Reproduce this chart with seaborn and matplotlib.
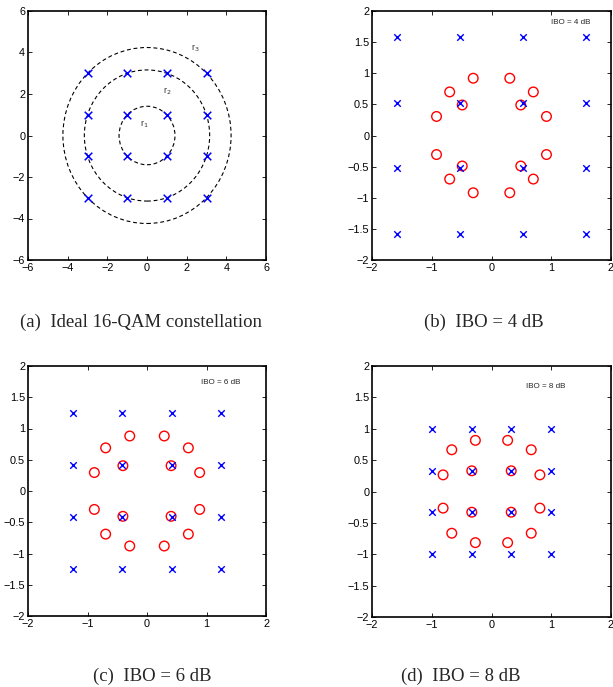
import numpy as np
import pandas as pd
import matplotlib
matplotlib.use("Agg")
import matplotlib.pyplot as plt
from matplotlib.ticker import FuncFormatter, MultipleLocator
from matplotlib.patches import Circle
import seaborn as sns

sns.set_style("ticks")
plt.rcParams['font.family'] = ['Liberation Sans', 'DejaVu Sans']

# ---------- data ----------
# (a) ideal 16-QAM constellation
qam_levels = [-3, -1, 1, 3]
ring_radii = [1.41, 3.16, 4.24]
ring_labels = ["r$_1$", "r$_2$", "r$_3$"]
ring_label_x = [-0.15, 1.0, 2.45]
ring_label_y = [0.55, 2.15, 4.2]

# (b)-(d) distorted constellations: cross = square grid levels, circle = ring points
ibo_labels = ["IBO = 4 dB", "IBO = 6 dB", "IBO = 8 dB"]
cross_inner = [0.525, 0.415, 0.33]
cross_outer = [1.575, 1.25, 0.99]
# circle points in first quadrant (x, y) for each IBO
circ_x = [[0.306, 0.70, 0.92, 0.49],
          [0.29, 0.695, 0.885, 0.405],
          [0.27, 0.665, 0.81, 0.33]]
circ_y = [[0.92, 0.70, 0.306, 0.49],
          [0.88, 0.69, 0.295, 0.405],
          [0.815, 0.665, 0.265, 0.33]]
ibo_text_x = [1.0, 0.91, 0.58]
ibo_text_y = [1.82, 1.74, 1.68]

captions = ["(a)  Ideal 16-QAM constellation", "(b)  IBO = 4 dB",
            "(c)  IBO = 6 dB", "(d)  IBO = 8 dB"]

# ---------- figure ----------
W, H = 613, 687
fig = plt.figure(figsize=(W / 100, H / 100), dpi=100)

def rect(l, t, r, b):
    return [l / W, 1 - b / H, (r - l) / W, (b - t) / H]

axA = fig.add_axes(rect(28, 11, 266, 260))
axB = fig.add_axes(rect(372, 11, 611, 260))
axC = fig.add_axes(rect(28, 366, 266, 616))
axD = fig.add_axes(rect(372, 366, 611, 617))

fmt = FuncFormatter(lambda v, p: ('%g' % v).replace('-', '\u2212'))

def style(ax, lim, xstep, ystep):
    ax.set_xlim(-lim, lim)
    ax.set_ylim(-lim, lim)
    ax.xaxis.set_major_locator(MultipleLocator(xstep))
    ax.yaxis.set_major_locator(MultipleLocator(ystep))
    ax.xaxis.set_major_formatter(fmt)
    ax.yaxis.set_major_formatter(fmt)
    ax.tick_params(direction='in', length=3, width=0.6, labelsize=7.8,
                   top=True, right=True, pad=2, colors='black')
    for s in ax.spines.values():
        s.set_linewidth(1.2)
        s.set_color('black')
        s.set_visible(True)
    ax.set_xlabel('')
    ax.set_ylabel('')

# (a)
gx, gy = np.meshgrid(qam_levels, qam_levels)
dfA = pd.DataFrame({'x': gx.ravel(), 'y': gy.ravel()})
sns.scatterplot(data=dfA, x='x', y='y', marker='x', s=30, color='blue',
                linewidth=1.1, ax=axA, zorder=3)
for r in ring_radii:
    axA.add_patch(Circle((0, 0), r, fill=False, ls=(0, (3.5, 2.5)), lw=0.8,
                         color='black'))
for lab, lx, ly in zip(ring_labels, ring_label_x, ring_label_y):
    axA.text(lx, ly, lab, fontsize=6.5, ha='center', va='center',
             color='#333333')
style(axA, 6, 2, 2)

# (b)-(d)
signs = [(1, 1), (-1, 1), (-1, -1), (1, -1)]
for ax, ci, co, cx, cy, lab, tx, ty in zip(
        [axB, axC, axD], cross_inner, cross_outer, circ_x, circ_y,
        ibo_labels, ibo_text_x, ibo_text_y):
    lv = [-co, -ci, ci, co]
    gx, gy = np.meshgrid(lv, lv)
    dfx = pd.DataFrame({'x': gx.ravel(), 'y': gy.ravel()})
    px, py = [], []
    for sx, sy in signs:
        for a, b in zip(cx, cy):
            px.append(sx * a)
            py.append(sy * b)
    dfo = pd.DataFrame({'x': px, 'y': py})
    sns.scatterplot(data=dfo, x='x', y='y', marker='o', s=48,
                    facecolors='none', edgecolors='red', linewidth=1.0,
                    ax=ax, zorder=3)
    sns.scatterplot(data=dfx, x='x', y='y', marker='x', s=22, color='blue',
                    linewidth=1.0, ax=ax, zorder=4)
    ax.text(tx, ty, lab, fontsize=5.8, ha='left', va='center')
    style(ax, 2, 1, 0.5)

# captions
cap_pos = [(141, 322), (484, 322), (152, 676), (461, 676)]
for cap, (cx_, cy_) in zip(captions, cap_pos):
    fig.text(cx_ / W, 1 - cy_ / H, cap, ha='center', va='center',
             fontsize=13.5, family=['Liberation Serif', 'DejaVu Serif'])

fig.savefig('out.png', dpi=100)
